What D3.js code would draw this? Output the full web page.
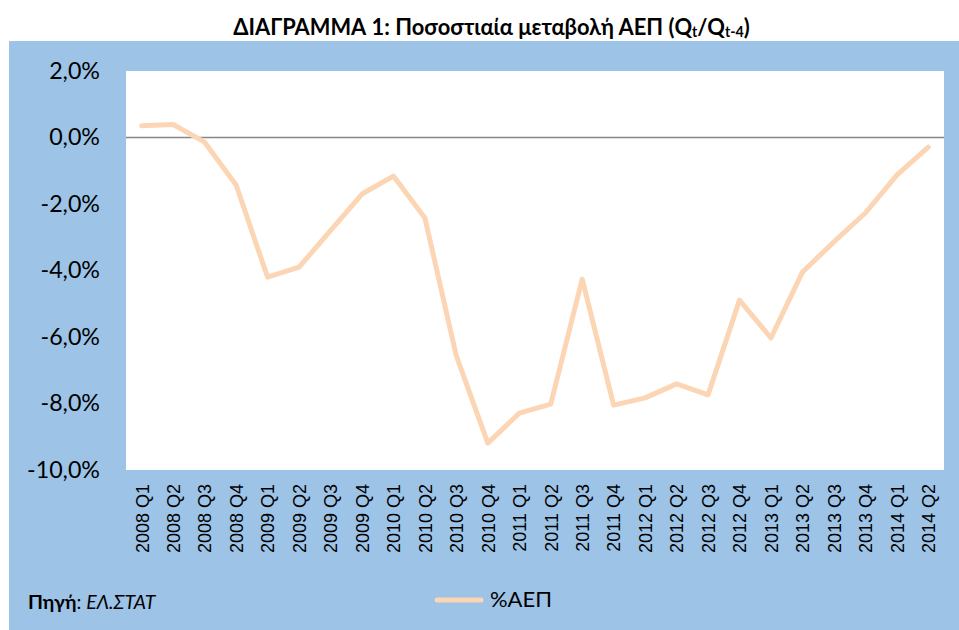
<!DOCTYPE html>
<html><head><meta charset="utf-8">
<script src="https://cdn.jsdelivr.net/npm/d3@7"></script>
<style>body{margin:0;background:#fff}svg{display:block}</style>
</head><body>
<svg id="c" width="959" height="630"></svg>
<script>
const categories = ["2008 Q1","2008 Q2","2008 Q3","2008 Q4","2009 Q1","2009 Q2","2009 Q3","2009 Q4","2010 Q1","2010 Q2","2010 Q3","2010 Q4","2011 Q1","2011 Q2","2011 Q3","2011 Q4","2012 Q1","2012 Q2","2012 Q3","2012 Q4","2013 Q1","2013 Q2","2013 Q3","2013 Q4","2014 Q1","2014 Q2"];
const gdpChange = [0.35,0.39,-0.14,-1.43,-4.2,-3.9,-2.8,-1.7,-1.16,-2.42,-6.57,-9.19,-8.29,-8.02,-4.26,-8.05,-7.83,-7.41,-7.74,-4.89,-6.03,-4.05,-3.14,-2.27,-1.13,-0.29];
const yTicks = [2,0,-2,-4,-6,-8,-10];

const FONT = "Lato, Open Sans, Liberation Sans, sans-serif";
const svg = d3.select("#c");
const W = 959, H = 630;
const P = {l:126, r:944, t:71, b:470};

function fit(sel, target){
  const n = sel.node(); const fs = parseFloat(sel.attr("font-size"));
  const w = n.getComputedTextLength ? n.getComputedTextLength() : n.getBBox().width;
  if (w > 0) sel.attr("font-size", fs*target/w);
}

svg.append("rect").attr("x",9).attr("y",41).attr("width",W-9).attr("height",H-41).attr("fill","#9DC3E6");
svg.append("rect").attr("x",P.l).attr("y",P.t).attr("width",P.r-P.l).attr("height",P.b-P.t).attr("fill","#fff");

const title = svg.append("text").attr("x",491.5).attr("y",35).attr("text-anchor","middle")
  .attr("font-family",FONT).attr("font-weight","bold").attr("font-size",20).attr("fill","#000");
title.append("tspan").text("ΔΙΑΓΡΑΜΜΑ 1: Ποσοστιαία μεταβολή ΑΕΠ (Q");
title.append("tspan").attr("font-size","0.65em").attr("dy",2).text("t");
title.append("tspan").attr("dy",-2).text("/Q");
title.append("tspan").attr("font-size","0.65em").attr("dy",2).text("t-4");
title.append("tspan").attr("dy",-2).text(")");
{ const w = title.node().getBBox().width; title.attr("font-size", 20*517/w); }

const x = d3.scaleBand().domain(categories).range([P.l,P.r]);
const y = d3.scaleLinear().domain([-10,2]).range([P.b,P.t]);

const fmt = v => d3.format(".1f")(v).replace(".",",").replace("−","-") + "%";

const yAxis = svg.append("g").attr("transform",`translate(${P.l},0)`)
  .call(d3.axisLeft(y).tickValues(yTicks).tickFormat(fmt).tickSize(0).tickPadding(26));
yAxis.select(".domain").remove();
yAxis.selectAll("text").attr("font-family",FONT).attr("font-size",20).attr("fill","#000");
{ const t = yAxis.selectAll("text").filter(d=>d===-10); const w = t.node().getComputedTextLength();
  yAxis.selectAll("text").attr("font-size", 20*73/w); }

const xAxis = svg.append("g").attr("transform",`translate(0,${P.b})`)
  .call(d3.axisBottom(x).tickSize(0).tickPadding(0));
xAxis.select(".domain").remove();
xAxis.selectAll("text")
  .attr("font-family","Liberation Sans, Arial, sans-serif").attr("font-size",18).attr("fill","#000")
  .attr("transform","rotate(-90)").attr("text-anchor","end")
  .attr("x",-14).attr("y",0).attr("dy","0.38em");

svg.append("line").attr("x1",P.l).attr("x2",P.r).attr("y1",y(0)).attr("y2",y(0))
  .attr("stroke","#868686").attr("stroke-width",1.5);

const line = d3.line().x((d,i)=>x(categories[i])+x.bandwidth()/2).y(d=>y(d));
svg.append("path").datum(gdpChange).attr("d",line).attr("fill","none")
  .attr("stroke","#FCD5B4").attr("stroke-width",5).attr("stroke-linejoin","round").attr("stroke-linecap","round");

// legend
svg.append("line").attr("x1",437).attr("x2",481).attr("y1",600).attr("y2",600)
  .attr("stroke","#FCD5B4").attr("stroke-width",5).attr("stroke-linecap","round");
const lg = svg.append("text").attr("x",490).attr("y",607).attr("font-family",FONT)
  .attr("font-size",20).attr("fill","#000").text("%ΑΕΠ");
fit(lg, 62);

const src = svg.append("text").attr("x",28).attr("y",609).attr("font-family",FONT)
  .attr("font-size",16).attr("fill","#000");
src.append("tspan").attr("font-weight","bold").text("Πηγή");
src.append("tspan").text(": ");
src.append("tspan").attr("font-style","italic").text("ΕΛ.ΣΤΑΤ");
{ const w = src.node().getBBox().width; src.attr("font-size", 16*129/w); }
</script>
</body></html>
